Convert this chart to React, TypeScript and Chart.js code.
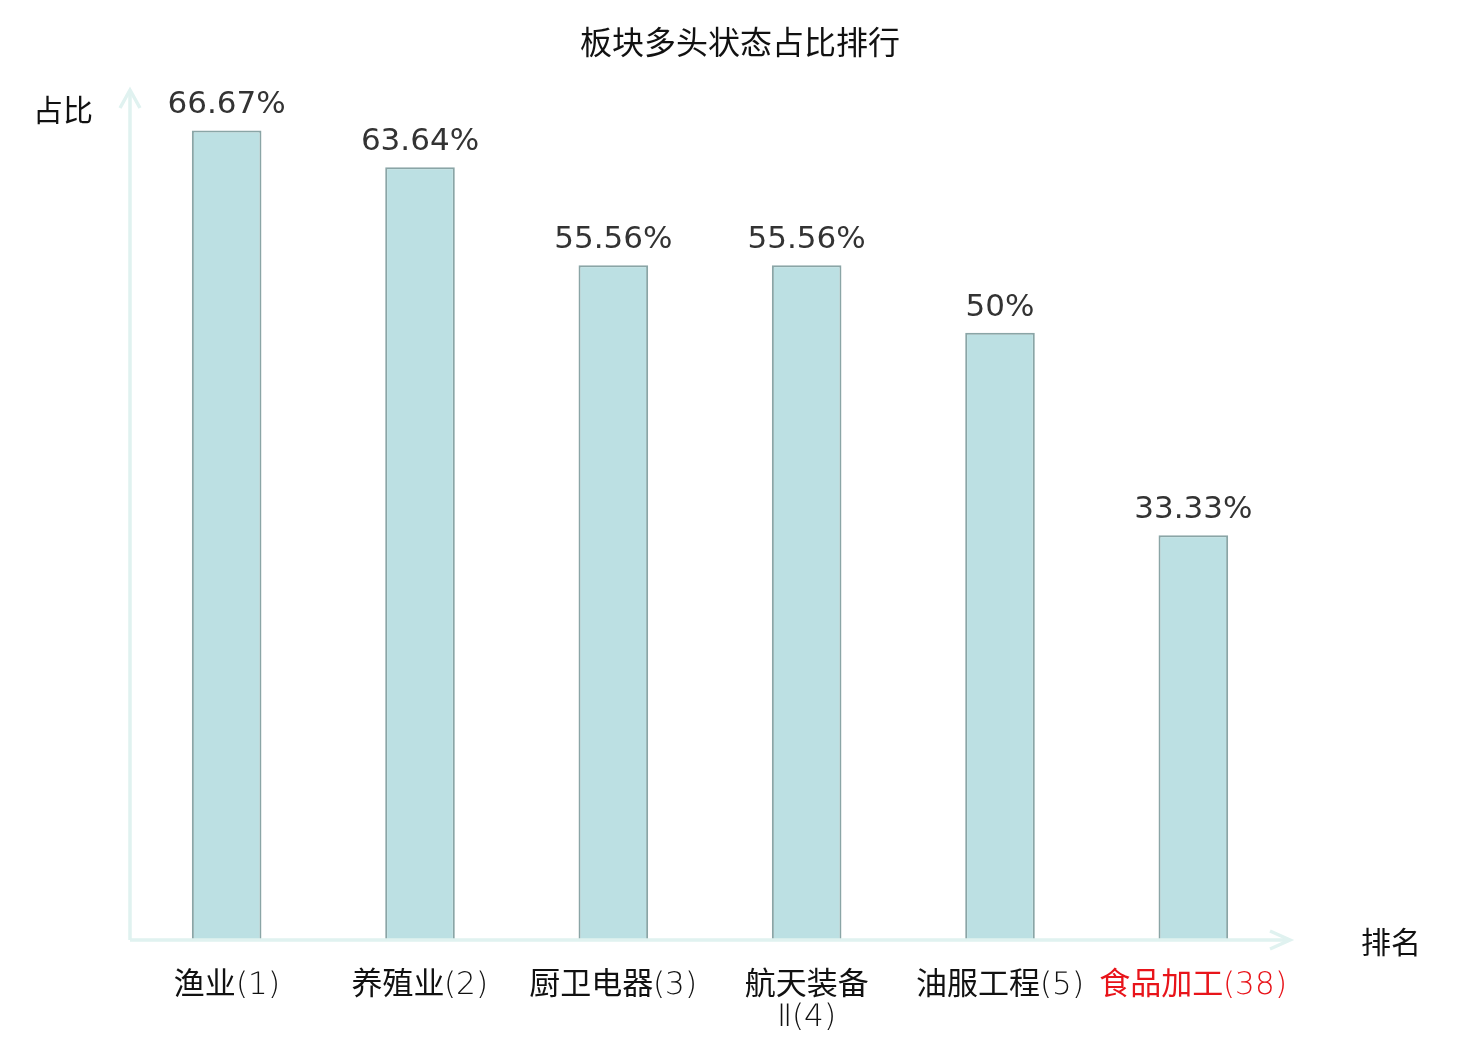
import React, { useEffect, useRef } from "react";
import { Chart, registerables } from "chart.js";

Chart.register(...registerables);

const chartTitle = "板块多头状态占比排行";
const sectorNames = ["渔业", "养殖业", "厨卫电器", "航天装备Ⅱ", "油服工程", "食品加工"];
const sectorRanks = [1, 2, 3, 4, 5, 38];
const shareValues = [66.67, 63.64, 55.56, 55.56, 50, 33.33];
const yAxisName = "占比";
const xAxisName = "排名";
const yMax = 70;

const CJK = '"Noto Sans CJK SC", sans-serif';
const LABEL = '"LabelLatinLight", "Noto Sans CJK SC", sans-serif';
const NUM = '"DejaVu Sans"';

const FONT_CSS = `
@font-face {
  font-family: "LabelLatinLight";
  src: local("DejaVu Sans ExtraLight"), local("DejaVuSans-ExtraLight");
  unicode-range: U+0000-024F, U+2160-217F;
}
`;

function makeLabel(name: string, rank: number): string | string[] {
  const full = `${name}(${rank})`;
  if (name.length > 4) {
    return [name.slice(0, 4), name.slice(4) + `(${rank})`];
  }
  return full;
}

const decorPlugin = {
  id: "decor",
  afterDatasetsDraw(chart: any) {
    const { ctx, chartArea, width } = chart;
    const { left, right, top, bottom } = chartArea;
    ctx.save();
    // title
    ctx.fillStyle = "#111";
    ctx.font = `32px ${CJK}`;
    ctx.textAlign = "center";
    ctx.textBaseline = "middle";
    ctx.fillText(chartTitle, width / 2, 42);

    // axes with arrows
    ctx.strokeStyle = "#e0f2f0";
    ctx.lineWidth = 3.5;
    ctx.lineCap = "butt";
    ctx.lineJoin = "miter";
    ctx.beginPath();
    ctx.moveTo(left, bottom);
    ctx.lineTo(left, top);
    ctx.moveTo(left, bottom);
    ctx.lineTo(right, bottom);
    ctx.stroke();
    ctx.beginPath();
    ctx.moveTo(left - 10, top + 18);
    ctx.lineTo(left, top);
    ctx.lineTo(left + 10, top + 18);
    ctx.moveTo(right - 20, bottom - 9);
    ctx.lineTo(right, bottom);
    ctx.lineTo(right - 20, bottom + 9);
    ctx.stroke();

    // axis names
    ctx.fillStyle = "#111";
    ctx.font = `30px ${CJK}`;
    ctx.fillText(yAxisName, left - 67, top + 20);
    ctx.fillText(xAxisName, right + 101, bottom + 2);

    // value labels
    const meta = chart.getDatasetMeta(0);
    ctx.fillStyle = "#333";
    ctx.font = `31px ${NUM}`;
    meta.data.forEach((bar: any, i: number) => {
      const v = chart.data.datasets[0].data[i];
      ctx.fillText(`${v}%`, bar.x, bar.y - 25);
    });
    ctx.restore();
  },
};

export default function App() {
  const ref = useRef<HTMLCanvasElement | null>(null);
  useEffect(() => {
    let chart: any = null;
    let cancelled = false;
    const style = document.createElement("style");
    style.textContent = FONT_CSS;
    document.head.appendChild(style);

    const build = () => {
      if (cancelled || !ref.current) return;
      const labels = sectorNames.map((n, i) => makeLabel(n, sectorRanks[i]));
      chart = new Chart(ref.current, {
        type: "bar",
        data: {
          labels,
          datasets: [
            {
              data: shareValues,
              backgroundColor: "#bce0e3",
              borderColor: "#8aa5a6",
              borderWidth: 2,
              barPercentage: 0.36,
              categoryPercentage: 1,
            },
          ],
        },
        options: {
          responsive: false,
          animation: false,
          devicePixelRatio: 1,
          layout: { padding: { left: 130, right: 190, top: 90, bottom: 0 } },
          plugins: {
            legend: { display: false },
            tooltip: { enabled: false },
            title: { display: false },
          },
          scales: {
            y: { display: false, min: 0, max: yMax },
            x: {
              grid: { display: false },
              border: { display: false },
              ticks: {
                padding: 22,
                autoSkip: false,
                maxRotation: 0,
                minRotation: 0,
                font: { family: LABEL, size: 31, weight: "normal", lineHeight: "32px" } as any,
                color: (c: any) => (c.index === sectorNames.length - 1 ? "#e8141a" : "#111"),
              },
              afterFit: (scale: any) => {
                scale.height = 100;
              },
            },
          },
        },
        plugins: [decorPlugin],
      });
    };

    const fontsApi: any = (document as any).fonts;
    if (fontsApi && fontsApi.load) {
      fontsApi
        .load('31px "LabelLatinLight"', "(1234589)Ⅱ")
        .catch(() => null)
        .then(() => build());
    } else {
      build();
    }

    return () => {
      cancelled = true;
      if (chart) chart.destroy();
      style.remove();
    };
  }, []);
  return (
    <div style={{ position: "absolute", left: 0, top: 0, width: 1480, height: 1040, background: "#fff" }}>
      <canvas ref={ref} width={1480} height={1040} style={{ width: 1480, height: 1040, display: "block" }} />
    </div>
  );
}
